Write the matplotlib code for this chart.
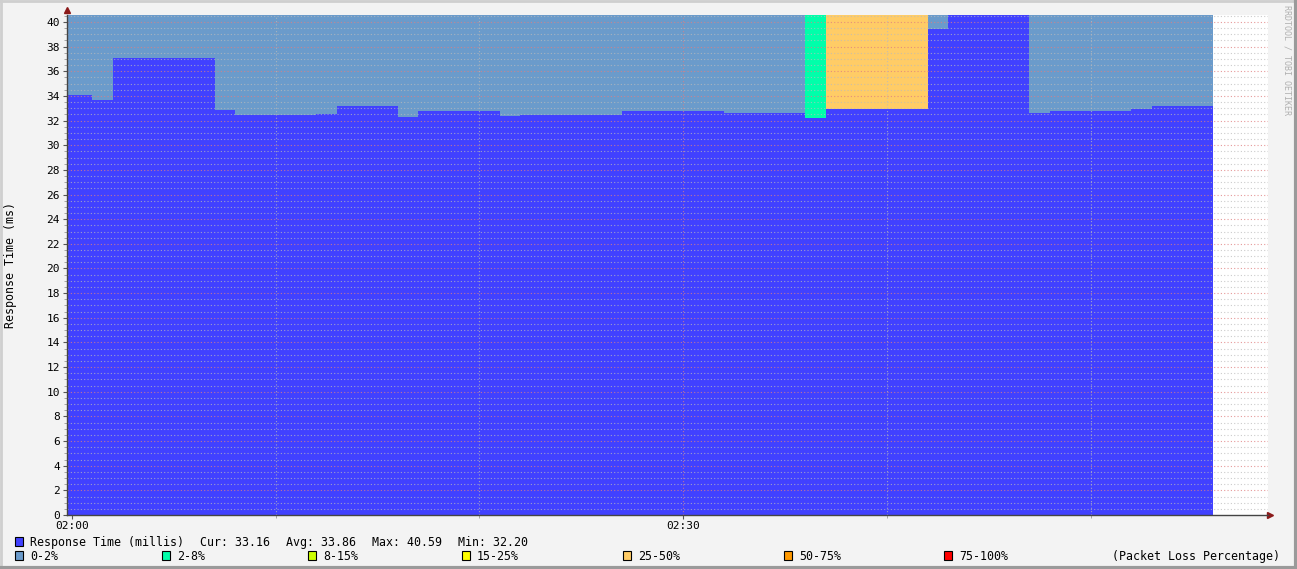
import numpy as np
import matplotlib; matplotlib.use("Agg"); import matplotlib.pyplot as plt
from matplotlib.patches import Rectangle

# minutes after 02:00 (start of each 1-minute interval)
minutes = list(range(-1, 56))
resp = ([34.08, 34.08, 33.7] + [37.05] * 5 + [32.85] + [32.45] * 4 + [32.5] + [33.15] * 3
        + [32.3] + [32.75] * 4 + [32.35] + [32.45] * 5 + [32.75] * 5 + [32.6] + [32.65] * 3
        + [32.2] + [32.95] * 5 + [39.4] + [40.59] * 4 + [32.65] + [32.8] * 4 + [32.9] + [33.16] * 3)
# packet loss class per minute: 0 = 0-2%, 1 = 2-8%, 4 = 25-50%
loss = [0] * 37 + [1] + [4] * 5 + [0] * 14

loss_labels = ["0-2%", "2-8%", "8-15%", "15-25%", "25-50%", "50-75%", "75-100%"]
loss_colors = ["#6B9BCB", "#00FFAA", "#CCFF00", "#FFFF00", "#FFCC66", "#FF9900", "#FF0000"]
RESP_C = "#4141FF"
stats = ["Cur: 33.16", "Avg: 33.86", "Max: 40.59", "Min: 32.20"]
xtick_pos, xtick_lab = [0, 30], ["02:00", "02:30"]

W, H = 1297, 569
MONO = "DejaVu Sans Mono"
fig = plt.figure(figsize=(W / 100, H / 100), dpi=100, facecolor="#F3F3F3")
ax = fig.add_axes([67 / W, 1 - 515 / H, (1268 - 67) / W, (515 - 14.7) / H])
ax.set_facecolor("white")
YMAX = max(resp)
ax.set_xlim(-0.245, 58.71); ax.set_ylim(0, YMAX)

m = np.array(minutes); r = np.array(resp)
ax.bar(m, r, width=1, align="edge", color=RESP_C, lw=0, antialiased=False, zorder=1)
for k, c in enumerate(loss_colors):
    sel = np.array(loss) == k
    if sel.any():
        ax.bar(m[sel], YMAX - r[sel], bottom=r[sel], width=1, align="edge",
               color=c, lw=0, antialiased=False, zorder=1)

# grid on top of data, rrdtool style
for y in np.arange(0, 40.6, 0.5):
    if y % 2:
        ax.axhline(y, color="#BBBBBB", lw=0.8, ls=(0, (1, 2)), alpha=0.75, zorder=2)
for y in range(2, 42, 2):
    ax.axhline(y, color="#E08080", lw=0.8, ls=(0, (1, 2)), alpha=0.8, zorder=2)
for x in range(10, 60, 10):
    col = "#E08080" if x % 30 == 0 else "#BBBBBB"
    ax.axvline(x, color=col, lw=0.8, ls=(0, (1, 2)), alpha=0.75, zorder=2)

ax.set_yticks(range(0, 41, 2))
ax.set_yticks(np.arange(0, 40.6, 0.5), minor=True)
ax.set_xticks(xtick_pos, xtick_lab)
ax.set_xticks(range(0, 59, 10), minor=True)
ax.tick_params(axis="both", labelsize=8, length=3, width=0.8, color="#555555", pad=2)
ax.tick_params(axis="y", which="minor", length=2, color="#999999")
ax.tick_params(axis="x", which="minor", length=2, color="#999999")
ax.tick_params(axis="x", pad=1)
for t in ax.get_xticklabels() + ax.get_yticklabels():
    t.set_family(MONO)
for s in ["top", "right"]:
    ax.spines[s].set_visible(False)
for s in ["left", "bottom"]:
    ax.spines[s].set_color("#444444"); ax.spines[s].set_linewidth(1.0)
ax.plot([0], [1.01], marker="^", ms=4, color="#8B1A1A", transform=ax.transAxes, clip_on=False)
ax.plot([1.002], [0], marker=">", ms=4, color="#8B1A1A", transform=ax.transAxes, clip_on=False)


def ftext(x, y, s, **kw):
    fig.text(x / W, 1 - y / H, s, family=MONO, **kw)


ftext(11, 265, "Response Time (ms)", fontsize=8.4, rotation=90, ha="center", va="center")
ftext(1287, 5, "RRDTOOL / TOBI OETIKER", fontsize=6.0, rotation=270, ha="center", va="top",
      color="#B0B0B0")

# legend
def swatch(x, y, c):
    fig.patches.append(Rectangle((x / W, 1 - (y + 4.5) / H), 8 / W, 9 / H, transform=fig.transFigure,
                                 facecolor=c, edgecolor="black", lw=0.8))

swatch(15, 541, RESP_C)
ftext(30, 541, "Response Time (millis)", fontsize=8.4, va="center_baseline")
for x, s in zip([200, 286, 372, 458], stats):
    ftext(x, 541, s, fontsize=8.4, va="center_baseline")
for x, lab, c in zip([15, 162, 308, 462, 623, 784, 944], loss_labels, loss_colors):
    swatch(x, 555, c)
    ftext(x + 15, 555, lab, fontsize=8.4, va="center_baseline")
ftext(1280, 555, "(Packet Loss Percentage)", fontsize=8.4, va="center_baseline", ha="right")

# frame
fig.add_artist(plt.Line2D([0, 1], [1 - 1 / H, 1 - 1 / H], transform=fig.transFigure, color="#CFCFCF", lw=2))
fig.add_artist(plt.Line2D([1 / W, 1 / W], [0, 1], transform=fig.transFigure, color="#CFCFCF", lw=2))
fig.add_artist(plt.Line2D([0, 1], [1.5 / H, 1.5 / H], transform=fig.transFigure, color="#9A9A9A", lw=3))
fig.add_artist(plt.Line2D([1 - 1.5 / W, 1 - 1.5 / W], [0, 1], transform=fig.transFigure, color="#9A9A9A", lw=3))

fig.savefig("out.png", dpi=100, facecolor=fig.get_facecolor())
